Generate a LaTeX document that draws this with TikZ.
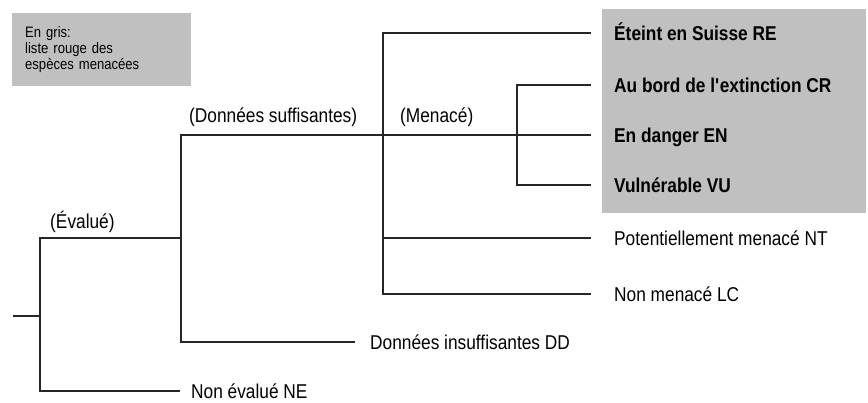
\documentclass[tikz,border=0pt]{standalone}
\usepackage{fontspec}
\setmainfont{Liberation Sans}[FakeStretch=0.865]
\usepackage{color}
\usetikzlibrary{positioning}
\definecolor{listgray}{RGB}{192,192,192}
\newcommand{\lfont}{\fontsize{20}{24}\selectfont}

\begin{document}
\begin{tikzpicture}[x=1pt,y=-1pt,
	branch/.style={line width=1.1pt,draw=black!85},
	leaf/.style={anchor=west,inner sep=0pt,text height=14.3pt,text depth=0pt,font=\lfont},
	redleaf/.style={leaf,font=\lfont\bfseries},
	note/.style={anchor=north west,fill=listgray,minimum width=179pt,minimum height=73pt,text width=153pt,inner xsep=13pt,inner ysep=0pt,align=left,font=\fontsize{15.1}{16}\selectfont}]
	\useasboundingbox (0,0) rectangle (868,402);
	\fill[listgray] (602,9) rectangle (866,213);
	\node[note] (note) at (12,13) {En gris:\\liste rouge des\\espèces menacées};
	\coordinate (root) at (13,316);
	\coordinate (all) at (40,316);
	\coordinate (eval) at (181,238);
	\coordinate (suff) at (383,135);
	\coordinate (men) at (517,135);
	\node[redleaf] (re) at (614,33) {Éteint en Suisse RE};
	\node[redleaf] (cr) at (614,85) {Au bord de l\textquotesingle extinction CR};
	\node[redleaf] (en) at (614,135) {En danger EN};
	\node[redleaf] (vu) at (614,185) {Vulnérable VU};
	\node[leaf] (nt) at (614,238) {Potentiellement menacé NT};
	\node[leaf] (lc) at (614,294) {Non menacé LC};
	\node[leaf] (dd) at (370,342) {Données insuffisantes DD};
	\node[leaf] (ne) at (191,391) {Non évalué NE};
	\node[leaf] (evallbl) at (50,221) {(Évalué)};
	\node[leaf] (sufflbl) at (189,115) {(Données suffisantes)};
	\node[leaf] (menlbl) at (400,115) {(Menacé)};
	\draw[branch] (root) -- (all);
	\draw[branch] (all) |- (eval);
	\draw[branch,shorten >=11pt] (all) |- (ne.west);
	\draw[branch] (eval) |- (suff);
	\draw[branch,shorten >=15pt] (eval) |- (dd.west);
	\draw[branch] (suff) -- (men);
	\foreach \leafname in {re,nt,lc}
		\draw[branch,shorten >=23pt] (suff) |- (\leafname.west);
	\foreach \leafname in {cr,en,vu}
		\draw[branch,shorten >=23pt] (men) |- (\leafname.west);
\end{tikzpicture}
\end{document}
